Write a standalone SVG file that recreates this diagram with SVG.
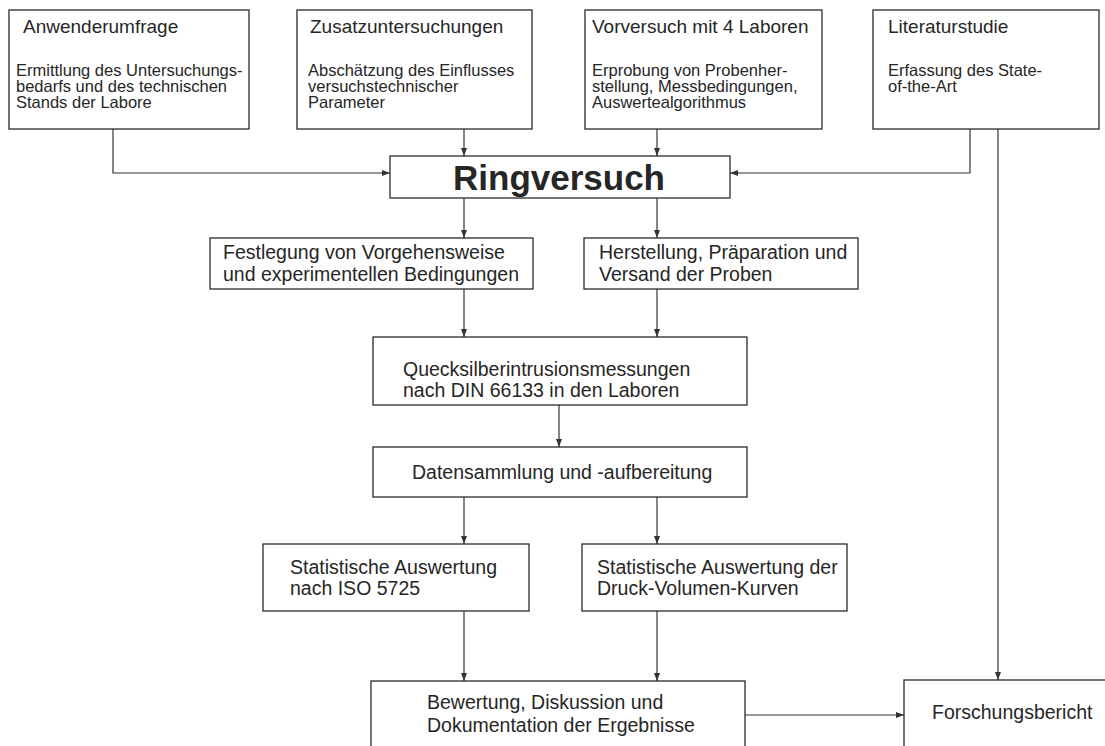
<svg xmlns="http://www.w3.org/2000/svg" width="1105" height="746" viewBox="0 0 1105 746">
<defs>
<style>
.box{fill:#fff;stroke:#2a2a2a;stroke-width:1.3}
.t{font-family:"Liberation Sans",Arial,Helvetica,sans-serif;fill:#262626}
.ti{font-size:19px}
.sub{font-size:16.5px}
.main{font-size:19.5px}
.big{font-size:35px;font-weight:bold;text-anchor:middle}
.c{fill:none;stroke:#333;stroke-width:1.2;marker-end:url(#ah)}
</style>
<marker id="ah" viewBox="0 0 8 6" refX="8" refY="3" markerWidth="8" markerHeight="6" markerUnits="userSpaceOnUse" orient="auto">
<path d="M0,0 L8,3 L0,6 z" fill="#333"/>
</marker>
</defs>
<rect width="1105" height="746" fill="#fff"/>

<g id="connectors">
<path class="c" d="M113,129 V173 H390"/>
<path class="c" d="M464,129 V156"/>
<path class="c" d="M657,129 V156"/>
<path class="c" d="M970,129 V173 H730"/>
<path class="c" d="M998,129 V680"/>
<path class="c" d="M464,198 V238"/>
<path class="c" d="M657,198 V238"/>
<path class="c" d="M464,289 V337"/>
<path class="c" d="M657,289 V337"/>
<path class="c" d="M559,405 V447"/>
<path class="c" d="M464,497 V544"/>
<path class="c" d="M657,497 V544"/>
<path class="c" d="M464,611 V681"/>
<path class="c" d="M657,611 V681"/>
<path class="c" d="M745,715 H904"/>
</g>

<g id="anwenderumfrage">
<rect class="box" x="9" y="10" width="240" height="119"/>
<text class="t ti" x="23" y="33">Anwenderumfrage</text>
<text class="t sub" x="16" y="76">Ermittlung des Untersuchungs-</text>
<text class="t sub" x="16" y="92">bedarfs und des technischen</text>
<text class="t sub" x="16" y="108">Stands der Labore</text>
</g>

<g id="zusatzuntersuchungen">
<rect class="box" x="297" y="10" width="235" height="119"/>
<text class="t ti" x="310" y="33">Zusatzuntersuchungen</text>
<text class="t sub" x="308" y="76">Abschätzung des Einflusses</text>
<text class="t sub" x="308" y="92">versuchstechnischer</text>
<text class="t sub" x="308" y="108">Parameter</text>
</g>

<g id="vorversuch">
<rect class="box" x="585" y="10" width="237" height="119"/>
<text class="t ti" x="592" y="33">Vorversuch mit 4 Laboren</text>
<text class="t sub" x="592" y="76">Erprobung von Probenher-</text>
<text class="t sub" x="592" y="92">stellung, Messbedingungen,</text>
<text class="t sub" x="592" y="108">Auswertealgorithmus</text>
</g>

<g id="literaturstudie">
<rect class="box" x="873" y="10" width="226" height="119"/>
<text class="t ti" x="888" y="33">Literaturstudie</text>
<text class="t sub" x="888" y="76">Erfassung des State-</text>
<text class="t sub" x="888" y="92">of-the-Art</text>
</g>

<g id="ringversuch">
<rect class="box" x="390" y="156" width="340" height="42"/>
<text class="t big" x="559" y="190">Ringversuch</text>
</g>

<g id="festlegung">
<rect class="box" x="210" y="238" width="323" height="51"/>
<text class="t main" x="223" y="259">Festlegung von Vorgehensweise</text>
<text class="t main" x="223" y="281">und experimentellen Bedingungen</text>
</g>

<g id="herstellung">
<rect class="box" x="584" y="238" width="274" height="51"/>
<text class="t main" x="599" y="259">Herstellung, Präparation und</text>
<text class="t main" x="599" y="281">Versand der Proben</text>
</g>

<g id="quecksilber">
<rect class="box" x="373" y="337" width="374" height="68"/>
<text class="t main" x="403" y="376">Quecksilberintrusionsmessungen</text>
<text class="t main" x="403" y="397">nach DIN 66133 in den Laboren</text>
</g>

<g id="datensammlung">
<rect class="box" x="373" y="447" width="374" height="50"/>
<text class="t main" x="412" y="479">Datensammlung und -aufbereitung</text>
</g>

<g id="statistik-iso">
<rect class="box" x="263" y="544" width="266" height="67"/>
<text class="t main" x="290" y="574">Statistische Auswertung</text>
<text class="t main" x="290" y="595">nach ISO 5725</text>
</g>

<g id="statistik-druck">
<rect class="box" x="582" y="544" width="265" height="67"/>
<text class="t main" x="597" y="574">Statistische Auswertung der</text>
<text class="t main" x="597" y="595">Druck-Volumen-Kurven</text>
</g>

<g id="bewertung">
<rect class="box" x="371" y="681" width="374" height="80"/>
<text class="t main" x="427" y="709">Bewertung, Diskussion und</text>
<text class="t main" x="427" y="732">Dokumentation der Ergebnisse</text>
</g>

<g id="forschungsbericht">
<rect class="box" x="904" y="680" width="215" height="80"/>
<text class="t main" x="932" y="719">Forschungsbericht</text>
</g>
</svg>
